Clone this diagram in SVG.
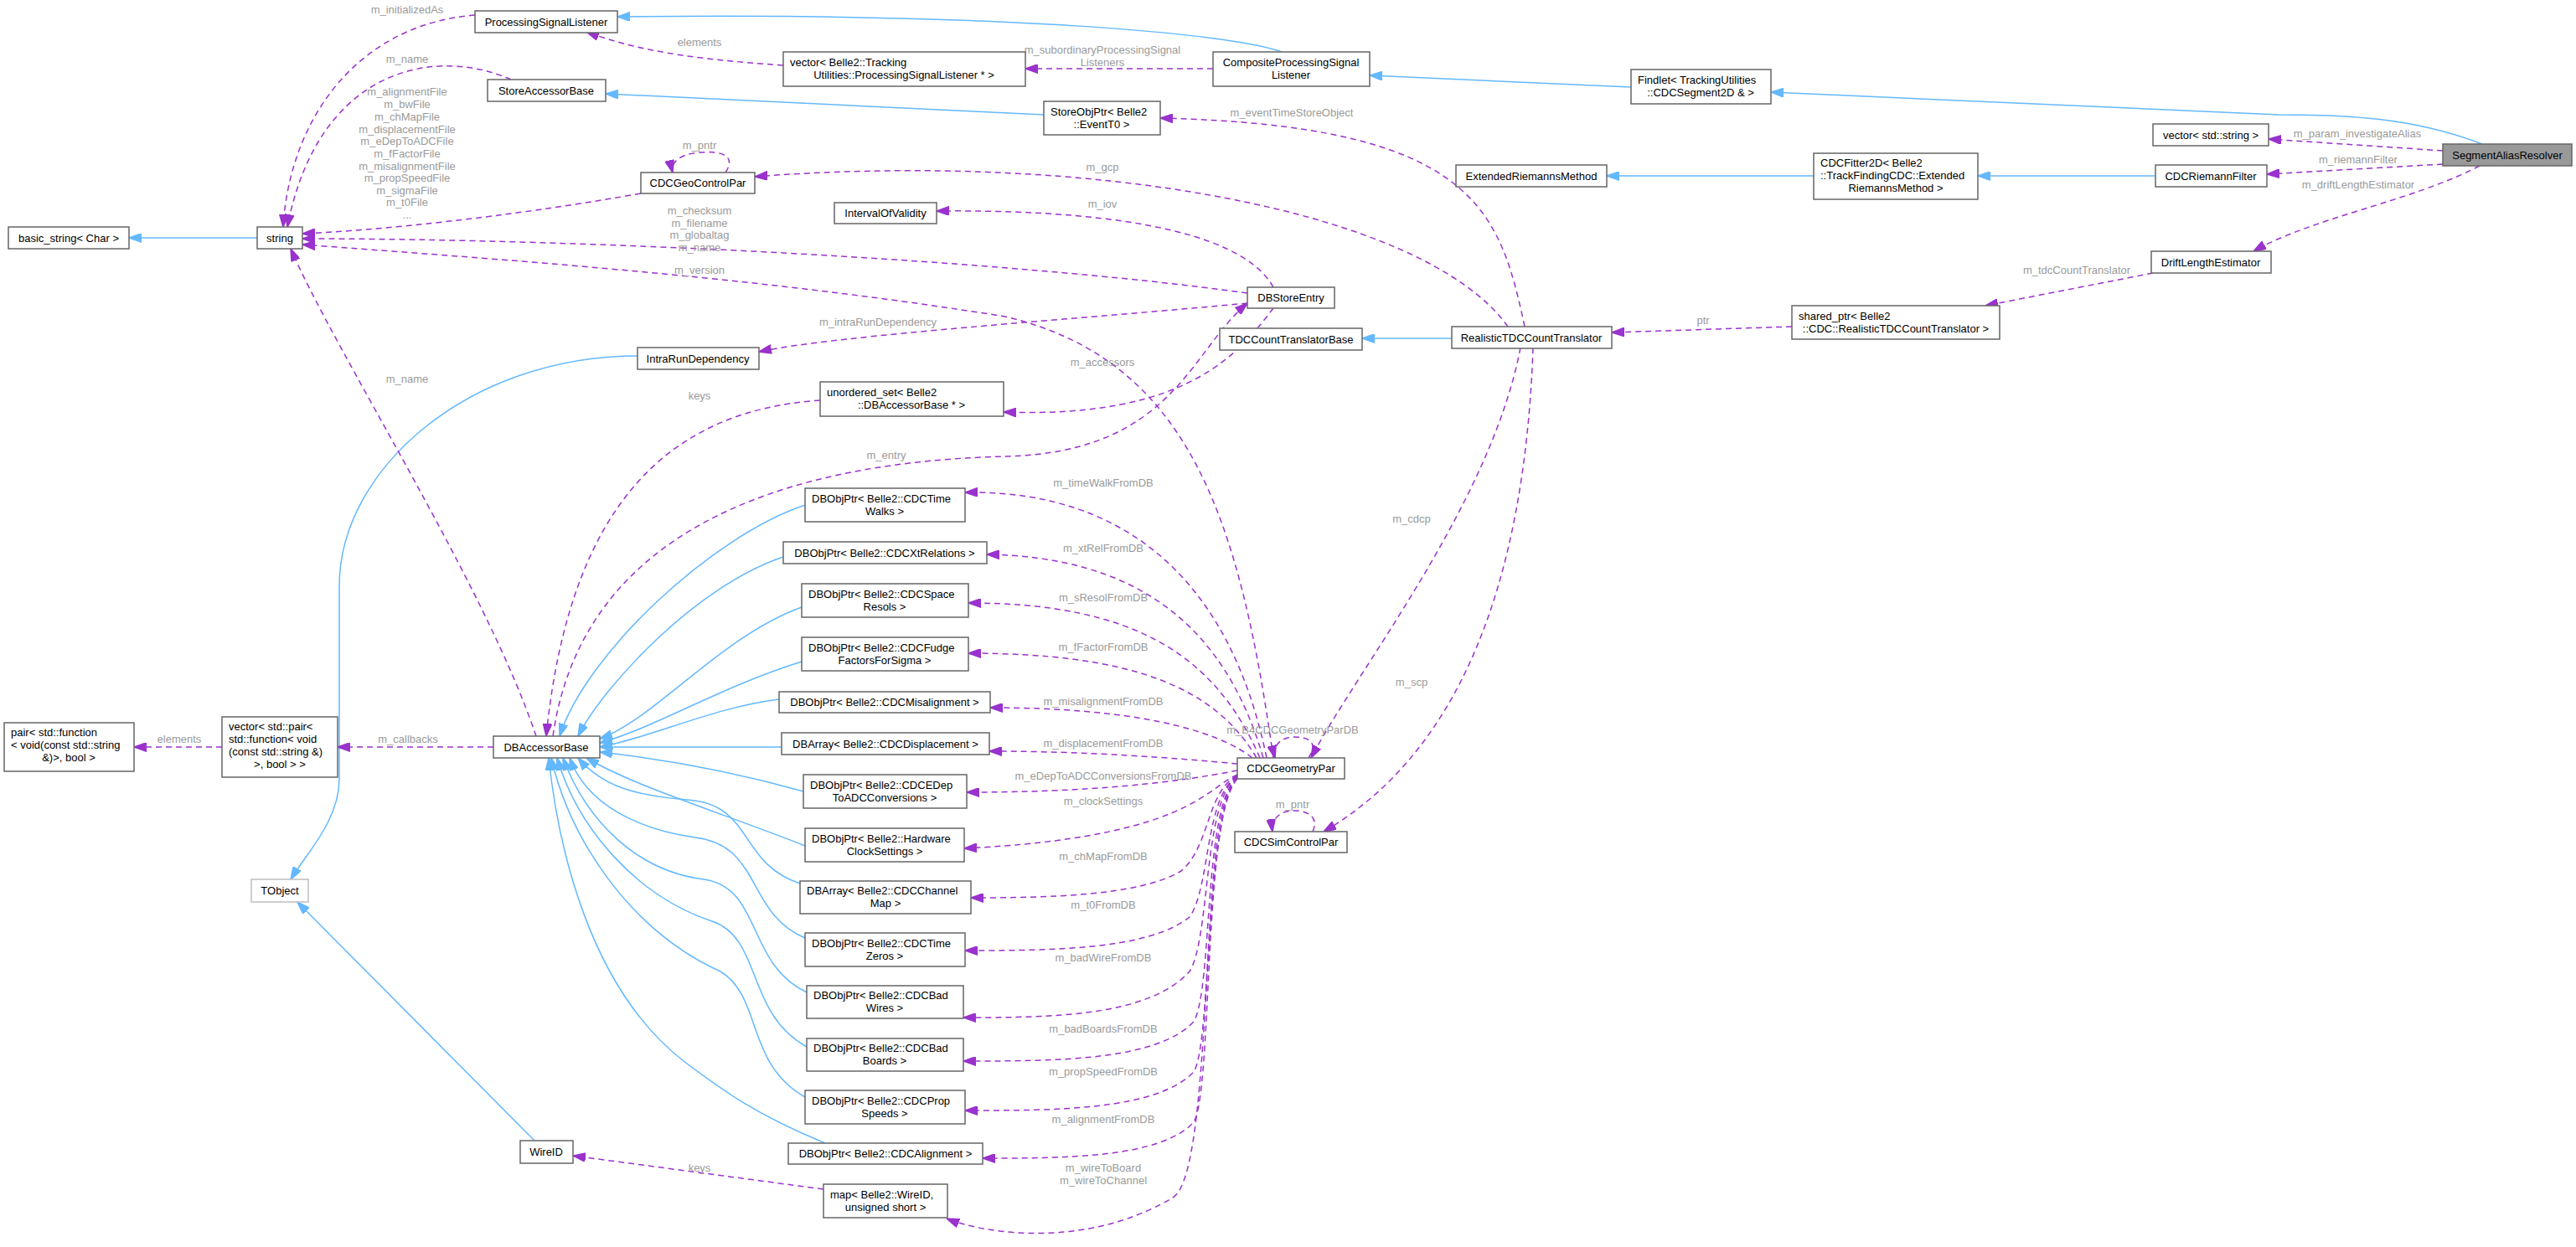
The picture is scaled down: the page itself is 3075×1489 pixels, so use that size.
<svg xmlns="http://www.w3.org/2000/svg" width="3075" height="1489" viewBox="0 0 3075 1489">
<style>
.n rect{fill:#fff;stroke:#666;stroke-width:1.5}
.n text{font-family:"Liberation Sans",Arial,sans-serif;font-size:13px;fill:#000}
.c{text-anchor:middle}
.inh{fill:none;stroke:#63b8ff;stroke-width:1.5}
.use{fill:none;stroke:#9a32cd;stroke-width:1.5;stroke-dasharray:7,5}
.lb{font-family:"Liberation Sans",Arial,sans-serif;font-size:13px;fill:#9a9a9a;text-anchor:middle}
</style>
<defs>
<marker id="ab" viewBox="0 0 10 7" refX="10" refY="3.5" markerUnits="userSpaceOnUse" markerWidth="15" markerHeight="11" orient="auto"><path d="M0,0L10,3.5L0,7z" fill="#63b8ff" stroke="#63b8ff"/></marker>
<marker id="ap" viewBox="0 0 10 7" refX="10" refY="3.5" markerUnits="userSpaceOnUse" markerWidth="15" markerHeight="11" orient="auto"><path d="M0,0L10,3.5L0,7z" fill="#9a32cd" stroke="#9a32cd"/></marker>
</defs>
<rect width="3075" height="1489" fill="#fff"/>
<g id="edges">
<g marker-end="url(#ab)">
<path class="inh" d="M1530,62 C1470,40 1200,15 737,20"/>
<path class="inh" d="M1947,104 L1635,90"/>
<path class="inh" d="M2963,172 C2880,140 2800,137 2720,137 L2114,110"/>
<path class="inh" d="M1246,137 L723,112"/>
<path class="inh" d="M2573,210 L2361,210"/>
<path class="inh" d="M2165,210 L1918,210"/>
<path class="inh" d="M1733,404 L1626,404"/>
<path class="inh" d="M307,284 L154,284"/>
<path class="inh" d="M761,425 C560,425 405,560 405,700 L405,930 C405,980 365,1020 347,1050"/>
<path class="inh" d="M638,1362 L355,1077"/>
<path class="inh" d="M961,603 C850,640 700,780 668,879"/>
<path class="inh" d="M935,665 C830,700 720,820 690,879"/>
<path class="inh" d="M957,725 C860,760 780,860 716,882"/>
<path class="inh" d="M957,790 C860,820 780,870 716,887"/>
<path class="inh" d="M930,835 C850,845 780,880 716,892"/>
<path class="inh" d="M933,892 L716,892"/>
<path class="inh" d="M959,945 C870,920 780,905 716,898"/>
<path class="inh" d="M961,1010 C860,970 760,940 700,905"/>
<path class="inh" d="M955,1055 C880,1030 900,960 820,955 C760,950 720,940 690,905"/>
<path class="inh" d="M961,1120 C890,1090 910,1010 830,1000 C760,990 700,960 680,905"/>
<path class="inh" d="M963,1185 C890,1150 910,1060 840,1050 C760,1040 700,980 672,905"/>
<path class="inh" d="M963,1250 C890,1210 910,1120 850,1100 C760,1070 690,990 665,905"/>
<path class="inh" d="M961,1310 C890,1270 910,1190 860,1160 C750,1110 680,1000 658,905"/>
<path class="inh" d="M985,1365 C900,1330 860,1300 820,1270 C700,1180 665,1000 655,905"/>
</g>
<g marker-end="url(#ap)">
<path class="use" d="M567,18 C420,30 345,150 338,271"/>
<path class="use" d="M610,95 C520,55 380,80 343,271"/>
<path class="use" d="M765,231 C600,260 450,275 361,279"/>
<path class="use" d="M1489,350 C1200,310 700,285 361,285"/>
<path class="use" d="M1520,905 C1480,620 1420,430 1200,378 C900,330 600,310 361,292"/>
<path class="use" d="M640,879 C580,700 400,420 347,297"/>
<path class="use" d="M935,78 C820,70 760,60 700,38"/>
<path class="use" d="M1448,82 L1224,82"/>
<path class="use" d="M1820,390 C1790,250 1760,150 1385,141"/>
<path class="use" d="M1800,390 C1700,250 1300,180 901,211"/>
<path class="use" d="M1520,343 C1480,270 1300,250 1118,252"/>
<path class="use" d="M1489,362 C1300,380 1000,400 906,420"/>
<path class="use" d="M660,879 C700,600 1000,550 1200,545 C1400,540 1420,420 1489,362"/>
<path class="use" d="M1520,368 C1480,420 1420,500 1198,492"/>
<path class="use" d="M979,478 C800,490 680,600 652,879"/>
<path class="use" d="M2916,180 L2708,166"/>
<path class="use" d="M2916,196 L2706,208"/>
<path class="use" d="M2960,198 C2880,240 2760,260 2690,300"/>
<path class="use" d="M2570,326 L2370,365"/>
<path class="use" d="M2139,390 L1924,397"/>
<path class="use" d="M1815,415 C1780,600 1620,800 1565,905"/>
<path class="use" d="M1830,415 C1820,700 1740,900 1580,993"/>
<path class="use" d="M866,206 C880,185 860,180 835,182 C810,184 800,195 803,206"/>
<path class="use" d="M1562,905 C1575,885 1560,880 1545,880 C1530,880 1518,890 1522,905"/>
<path class="use" d="M1567,993 C1575,975 1560,968 1545,968 C1528,968 1517,978 1519,993"/>
<path class="use" d="M1512,905 C1470,700 1350,585 1152,588"/>
<path class="use" d="M1508,905 C1460,740 1350,665 1178,662"/>
<path class="use" d="M1504,905 C1450,780 1350,720 1156,720"/>
<path class="use" d="M1500,905 C1450,820 1350,780 1156,780"/>
<path class="use" d="M1495,905 C1450,870 1350,845 1182,845"/>
<path class="use" d="M1477,912 C1400,905 1300,897 1181,897"/>
<path class="use" d="M1477,920 C1400,935 1300,946 1154,946"/>
<path class="use" d="M1477,925 C1440,940 1420,1000 1151,1013"/>
<path class="use" d="M1477,926 C1440,945 1445,1010 1410,1040 C1360,1070 1250,1072 1159,1072"/>
<path class="use" d="M1477,927 C1438,950 1445,1060 1420,1095 C1370,1135 1250,1135 1152,1135"/>
<path class="use" d="M1477,927 C1436,955 1445,1120 1420,1160 C1370,1215 1250,1215 1150,1215"/>
<path class="use" d="M1477,928 C1436,960 1448,1180 1425,1220 C1380,1267 1260,1267 1150,1267"/>
<path class="use" d="M1477,928 C1436,965 1448,1240 1425,1280 C1380,1326 1260,1326 1152,1326"/>
<path class="use" d="M1477,929 C1436,970 1448,1300 1425,1340 C1385,1383 1270,1383 1173,1383"/>
<path class="use" d="M1477,930 C1430,980 1450,1400 1400,1430 C1300,1490 1180,1475 1130,1455"/>
<path class="use" d="M983,1420 L684,1380"/>
<path class="use" d="M265,892 L160,892"/>
<path class="use" d="M589,892 L403,892"/>
</g>
<text class="lb" x="486" y="16">m_initializedAs</text>
<text class="lb" x="486" y="75">m_name</text>
<text class="lb" x="486" y="114">m_alignmentFile</text>
<text class="lb" x="486" y="129">m_bwFile</text>
<text class="lb" x="486" y="144">m_chMapFile</text>
<text class="lb" x="486" y="159">m_displacementFile</text>
<text class="lb" x="486" y="173">m_eDepToADCFile</text>
<text class="lb" x="486" y="188">m_fFactorFile</text>
<text class="lb" x="486" y="203">m_misalignmentFile</text>
<text class="lb" x="486" y="217">m_propSpeedFile</text>
<text class="lb" x="486" y="232">m_sigmaFile</text>
<text class="lb" x="486" y="246">m_t0File</text>
<text class="lb" x="486" y="261">...</text>
<text class="lb" x="835" y="256">m_checksum</text>
<text class="lb" x="835" y="271">m_filename</text>
<text class="lb" x="835" y="285">m_globaltag</text>
<text class="lb" x="835" y="300">m_name</text>
<text class="lb" x="835" y="327">m_version</text>
<text class="lb" x="835" y="178">m_pntr</text>
<text class="lb" x="835" y="55">elements</text>
<text class="lb" x="1048" y="389">m_intraRunDependency</text>
<text class="lb" x="835" y="477">keys</text>
<text class="lb" x="486" y="457">m_name</text>
<text class="lb" x="1316" y="64">m_subordinaryProcessingSignal</text>
<text class="lb" x="1316" y="79">Listeners</text>
<text class="lb" x="1542" y="139">m_eventTimeStoreObject</text>
<text class="lb" x="1316" y="204">m_gcp</text>
<text class="lb" x="1316" y="248">m_iov</text>
<text class="lb" x="1316" y="437">m_accessors</text>
<text class="lb" x="2033" y="387">ptr</text>
<text class="lb" x="2814" y="164">m_param_investigateAlias</text>
<text class="lb" x="2815" y="195">m_riemannFilter</text>
<text class="lb" x="2815" y="225">m_driftLengthEstimator</text>
<text class="lb" x="2479" y="327">m_tdcCountTranslator</text>
<text class="lb" x="1058" y="548">m_entry</text>
<text class="lb" x="1685" y="624">m_cdcp</text>
<text class="lb" x="1685" y="819">m_scp</text>
<text class="lb" x="1543" y="876">m_B4CDCGeometryParDB</text>
<text class="lb" x="1543" y="965">m_pntr</text>
<text class="lb" x="1317" y="581">m_timeWalkFromDB</text>
<text class="lb" x="1317" y="659">m_xtRelFromDB</text>
<text class="lb" x="1317" y="718">m_sResolFromDB</text>
<text class="lb" x="1317" y="777">m_fFactorFromDB</text>
<text class="lb" x="1317" y="842">m_misalignmentFromDB</text>
<text class="lb" x="1317" y="892">m_displacementFromDB</text>
<text class="lb" x="1317" y="931">m_eDepToADCConversionsFromDB</text>
<text class="lb" x="1317" y="961">m_clockSettings</text>
<text class="lb" x="1317" y="1027">m_chMapFromDB</text>
<text class="lb" x="1317" y="1085">m_t0FromDB</text>
<text class="lb" x="1317" y="1148">m_badWireFromDB</text>
<text class="lb" x="1317" y="1233">m_badBoardsFromDB</text>
<text class="lb" x="1317" y="1284">m_propSpeedFromDB</text>
<text class="lb" x="1317" y="1341">m_alignmentFromDB</text>
<text class="lb" x="1317" y="1399">m_wireToBoard</text>
<text class="lb" x="1317" y="1414">m_wireToChannel</text>
<text class="lb" x="835" y="1399">keys</text>
<text class="lb" x="214" y="887">elements</text>
<text class="lb" x="487" y="887">m_callbacks</text>
</g>
<g id="SegmentAliasResolver" class="n"><rect x="2916" y="172" width="154" height="26" style="fill:#999"/><text class="c" x="2993" y="190">SegmentAliasResolver</text></g>
<g id="Findlet" class="n"><rect x="1947" y="83" width="167" height="41"/><text x="1955" y="100">Findlet&lt; TrackingUtilities</text><text class="c" x="2030" y="115">::CDCSegment2D &amp; &gt;</text></g>
<g id="CompositePSL" class="n"><rect x="1448" y="62" width="187" height="41"/><text class="c" x="1541" y="79">CompositeProcessingSignal</text><text class="c" x="1541" y="94">Listener</text></g>
<g id="PSL" class="n"><rect x="567" y="13" width="170" height="26"/><text class="c" x="652" y="31">ProcessingSignalListener</text></g>
<g id="vecPSL" class="n"><rect x="935" y="62" width="289" height="41"/><text x="943" y="79">vector&lt; Belle2::Tracking</text><text class="c" x="1079" y="94">Utilities::ProcessingSignalListener * &gt;</text></g>
<g id="StoreAccessorBase" class="n"><rect x="582" y="95" width="141" height="26"/><text class="c" x="652" y="113">StoreAccessorBase</text></g>
<g id="StoreObjPtr" class="n"><rect x="1246" y="121" width="139" height="40"/><text x="1254" y="138">StoreObjPtr&lt; Belle2</text><text class="c" x="1315" y="153">::EventT0 &gt;</text></g>
<g id="vecString" class="n"><rect x="2570" y="148" width="138" height="26"/><text class="c" x="2639" y="166">vector&lt; std::string &gt;</text></g>
<g id="CDCRiemannFilter" class="n"><rect x="2573" y="197" width="133" height="26"/><text class="c" x="2639" y="215">CDCRiemannFilter</text></g>
<g id="CDCFitter2D" class="n"><rect x="2165" y="183" width="196" height="55"/><text x="2173" y="199">CDCFitter2D&lt; Belle2</text><text x="2173" y="214">::TrackFindingCDC::Extended</text><text class="c" x="2263" y="229">RiemannsMethod &gt;</text></g>
<g id="ExtendedRiemannsMethod" class="n"><rect x="1738" y="197" width="180" height="26"/><text class="c" x="1828" y="215">ExtendedRiemannsMethod</text></g>
<g id="DriftLengthEstimator" class="n"><rect x="2568" y="300" width="143" height="26"/><text class="c" x="2639" y="318">DriftLengthEstimator</text></g>
<g id="sharedPtr" class="n"><rect x="2139" y="365" width="248" height="40"/><text x="2147" y="382">shared_ptr&lt; Belle2</text><text class="c" x="2263" y="397">::CDC::RealisticTDCCountTranslator &gt;</text></g>
<g id="RealisticTDCCountTranslator" class="n"><rect x="1733" y="390" width="191" height="26"/><text class="c" x="1828" y="408">RealisticTDCCountTranslator</text></g>
<g id="TDCCountTranslatorBase" class="n"><rect x="1456" y="392" width="170" height="26"/><text class="c" x="1541" y="410">TDCCountTranslatorBase</text></g>
<g id="DBStoreEntry" class="n"><rect x="1489" y="343" width="104" height="25"/><text class="c" x="1541" y="360">DBStoreEntry</text></g>
<g id="CDCGeoControlPar" class="n"><rect x="765" y="206" width="136" height="25"/><text class="c" x="833" y="223">CDCGeoControlPar</text></g>
<g id="IntervalOfValidity" class="n"><rect x="996" y="242" width="122" height="25"/><text class="c" x="1057" y="259">IntervalOfValidity</text></g>
<g id="basicString" class="n"><rect x="10" y="271" width="144" height="26"/><text class="c" x="82" y="289">basic_string&lt; Char &gt;</text></g>
<g id="string" class="n"><rect x="307" y="271" width="54" height="26"/><text class="c" x="334" y="289">string</text></g>
<g id="IntraRunDependency" class="n"><rect x="761" y="415" width="145" height="26"/><text class="c" x="833" y="433">IntraRunDependency</text></g>
<g id="unorderedSet" class="n"><rect x="979" y="456" width="219" height="41"/><text x="987" y="473">unordered_set&lt; Belle2</text><text class="c" x="1088" y="488">::DBAccessorBase * &gt;</text></g>
<g id="pair" class="n"><rect x="5" y="863" width="155" height="58"/><text x="13" y="879">pair&lt; std::function</text><text x="13" y="894">&lt; void(const std::string</text><text class="c" x="82" y="909">&amp;)&gt;, bool &gt;</text></g>
<g id="vecPair" class="n"><rect x="265" y="856" width="138" height="72"/><text x="273" y="872">vector&lt; std::pair&lt;</text><text x="273" y="887">std::function&lt; void</text><text x="273" y="902">(const std::string &amp;)</text><text class="c" x="334" y="917">&gt;, bool &gt; &gt;</text></g>
<g id="DBAccessorBase" class="n"><rect x="589" y="879" width="127" height="26"/><text class="c" x="652" y="897">DBAccessorBase</text></g>
<g id="TObject" class="n"><rect x="300" y="1050" width="68" height="27" style="stroke:#bfbfbf"/><text class="c" x="334" y="1068">TObject</text></g>
<g id="WireID" class="n"><rect x="621" y="1362" width="63" height="27"/><text class="c" x="652" y="1380">WireID</text></g>
<g id="TimeWalks" class="n"><rect x="961" y="583" width="191" height="40"/><text x="969" y="600">DBObjPtr&lt; Belle2::CDCTime</text><text class="c" x="1056" y="615">Walks &gt;</text></g>
<g id="XtRelations" class="n"><rect x="935" y="647" width="243" height="26"/><text class="c" x="1056" y="665">DBObjPtr&lt; Belle2::CDCXtRelations &gt;</text></g>
<g id="SpaceResols" class="n"><rect x="957" y="697" width="199" height="40"/><text x="965" y="714">DBObjPtr&lt; Belle2::CDCSpace</text><text class="c" x="1056" y="729">Resols &gt;</text></g>
<g id="Fudge" class="n"><rect x="957" y="761" width="199" height="40"/><text x="965" y="778">DBObjPtr&lt; Belle2::CDCFudge</text><text class="c" x="1056" y="793">FactorsForSigma &gt;</text></g>
<g id="Misalignment" class="n"><rect x="930" y="826" width="252" height="25"/><text class="c" x="1056" y="843">DBObjPtr&lt; Belle2::CDCMisalignment &gt;</text></g>
<g id="Displacement" class="n"><rect x="933" y="875" width="248" height="26"/><text class="c" x="1057" y="893">DBArray&lt; Belle2::CDCDisplacement &gt;</text></g>
<g id="EDep" class="n"><rect x="959" y="925" width="195" height="40"/><text x="967" y="942">DBObjPtr&lt; Belle2::CDCEDep</text><text class="c" x="1056" y="957">ToADCConversions &gt;</text></g>
<g id="Hardware" class="n"><rect x="961" y="989" width="190" height="40"/><text x="969" y="1006">DBObjPtr&lt; Belle2::Hardware</text><text class="c" x="1056" y="1021">ClockSettings &gt;</text></g>
<g id="ChannelMap" class="n"><rect x="955" y="1052" width="204" height="39"/><text x="963" y="1068">DBArray&lt; Belle2::CDCChannel</text><text class="c" x="1057" y="1083">Map &gt;</text></g>
<g id="TimeZeros" class="n"><rect x="961" y="1114" width="191" height="40"/><text x="969" y="1131">DBObjPtr&lt; Belle2::CDCTime</text><text class="c" x="1056" y="1146">Zeros &gt;</text></g>
<g id="BadWires" class="n"><rect x="963" y="1177" width="187" height="39"/><text x="971" y="1193">DBObjPtr&lt; Belle2::CDCBad</text><text class="c" x="1056" y="1208">Wires &gt;</text></g>
<g id="BadBoards" class="n"><rect x="963" y="1240" width="187" height="39"/><text x="971" y="1256">DBObjPtr&lt; Belle2::CDCBad</text><text class="c" x="1056" y="1271">Boards &gt;</text></g>
<g id="PropSpeeds" class="n"><rect x="961" y="1302" width="191" height="40"/><text x="969" y="1319">DBObjPtr&lt; Belle2::CDCProp</text><text class="c" x="1056" y="1334">Speeds &gt;</text></g>
<g id="Alignment" class="n"><rect x="941" y="1365" width="232" height="25"/><text class="c" x="1057" y="1382">DBObjPtr&lt; Belle2::CDCAlignment &gt;</text></g>
<g id="mapWireID" class="n"><rect x="983" y="1414" width="148" height="40"/><text x="991" y="1431">map&lt; Belle2::WireID,</text><text class="c" x="1057" y="1446">unsigned short &gt;</text></g>
<g id="CDCGeometryPar" class="n"><rect x="1477" y="905" width="128" height="25"/><text class="c" x="1541" y="922">CDCGeometryPar</text></g>
<g id="CDCSimControlPar" class="n"><rect x="1474" y="993" width="134" height="25"/><text class="c" x="1541" y="1010">CDCSimControlPar</text></g>
</svg>
